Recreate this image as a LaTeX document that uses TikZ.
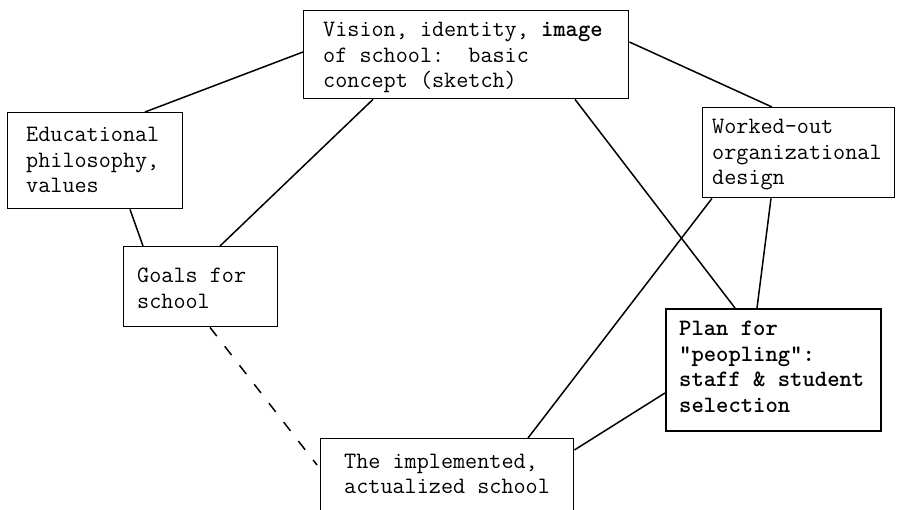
\documentclass[tikz,border=0pt]{standalone}
\usepackage{fontspec}
\usetikzlibrary{calc}
% every space in the typewriter labels is one character wide
\newcommand{\fixedspace}{\spaceskip=\fontcharwd\font`\x\relax\xspaceskip=\spaceskip}
\begin{document}
\begin{tikzpicture}[x=1pt,y=-1pt,
  box/.style={draw, line width=1.4pt, inner sep=0pt, anchor=north west},
  heavybox/.style={box, line width=2.2pt},
  label/.style={anchor=base west, inner sep=0pt, text width=240pt, align=left,
    font=\ttfamily\fontsize{23.5}{25.5}\selectfont,
    execute at begin node=\fixedspace},
  boldlabel/.style={label, font=\ttfamily\bfseries\fontsize{23.5}{25.5}\selectfont},
  link/.style={line width=1.5pt},
  dashlink/.style={link, dash pattern=on 11pt off 13pt}]
\useasboundingbox (0,0) rectangle (899,510);

% boxes
\node[box, minimum width=325pt, minimum height=88pt] (vis) at (303,10) {};
\node[box, minimum width=175pt, minimum height=96pt] (edu) at (7,112) {};
\node[box, minimum width=154pt, minimum height=80pt] (goals) at (123,246) {};
\node[box, minimum width=192pt, minimum height=90pt] (work) at (702,107) {};
\node[heavybox, minimum width=215pt, minimum height=122pt] (plan) at (665,308) {};
\node[box, minimum width=253pt, minimum height=78pt] (impl) at (320,438) {};

% texts
\node[label, text width=300pt] (tvis) at (323,37)
  {Vision, identity, \textbf{image}\\of school:~ basic\\concept (sketch)};
\node[label] (tedu) at (26,142) {Educational\\philosophy,\\values};
\node[label] (tgoals) at (137,283) {Goals for\\school};
\node[label] (twork) at (712,134) {Worked-out\\organizational\\design};
\node[boldlabel] (tplan) at (679,336) {Plan for\\"peopling":\\staff \& student\\selection};
\node[label] (timpl) at (344,468) {The implemented,\\actualized school};

% connectors
\draw[link] ($(edu.north west)+(138,0)$) -- ($(vis.north west)+(0,42)$);
\draw[link] ($(vis.north east)+(0,32)$) -- ($(work.north west)+(70,0)$);
\draw[link] ($(vis.south west)+(70,0)$) -- ($(goals.north west)+(97,0)$);
\draw[link] ($(vis.south west)+(272,0)$) -- ($(plan.north west)+(70,0)$);
\draw[link] ($(edu.south west)+(123,0)$) -- ($(goals.north west)+(20,0)$);
\draw[link] ($(work.south west)+(69,0)$) -- ($(plan.north west)+(92,0)$);
\draw[link] ($(work.south west)+(10,0)$) -- ($(impl.north west)+(208,0)$);
\draw[link] ($(plan.north west)+(0,85)$) -- ($(impl.north east)+(0,12)$);
\draw[dashlink] ($(goals.south west)+(87,0)$) -- ($(impl.north west)+(-3,27)$);
\end{tikzpicture}
\end{document}
